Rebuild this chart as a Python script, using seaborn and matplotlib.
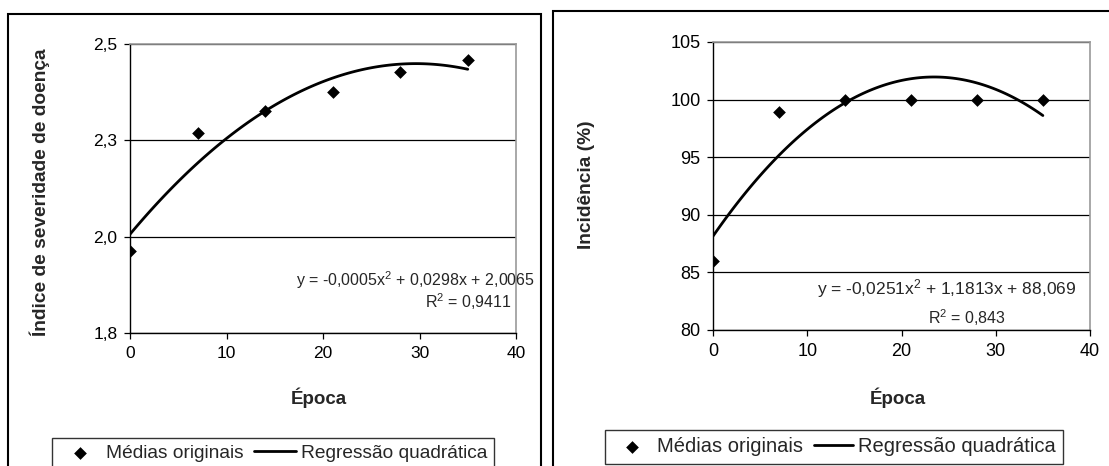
import numpy as np
import pandas as pd
import matplotlib.pyplot as plt
import seaborn as sns
from matplotlib.patches import Rectangle

# Data
epoca = [0, 7, 14, 21, 28, 35]
severidade = [1.964, 2.268, 2.325, 2.375, 2.427, 2.458]
incidencia = [86.0, 98.9, 100.0, 100.0, 100.0, 100.0]

x_ticks = [0, 10, 20, 30, 40]
sev_ticks = [1.75, 2.0, 2.25, 2.5]
sev_tick_labels = ['1,8', '2,0', '2,3', '2,5']
inc_ticks = [80, 85, 90, 95, 100, 105]
inc_tick_labels = ['80', '85', '90', '95', '100', '105']

eq_sev = 'y = -0,0005x$^{2}$ + 0,0298x + 2,0065'
r2_sev = 'R$^{2}$ = 0,9411'
eq_inc = 'y = -0,0251x$^{2}$ + 1,1813x + 88,069'
r2_inc = 'R$^{2}$ = 0,843'

sns.set_style('white')
plt.rcParams['font.family'] = ['Liberation Sans', 'DejaVu Sans']
plt.rcParams['mathtext.fontset'] = 'custom'
plt.rcParams['mathtext.rm'] = 'Liberation Sans'
plt.rcParams['mathtext.default'] = 'regular'

W, H = 1109, 466
fig = plt.figure(figsize=(W / 100, H / 100), dpi=100)


def px_axes(x0, x1, y0, y1):
    return fig.add_axes([x0 / W, 1 - y1 / H, (x1 - x0) / W, (y1 - y0) / H])


def draw_panel(ax, y, yticks, ylabels, ylabel, tick_size, ylab_xy, xlab_y):
    sns.scatterplot(x=epoca, y=y, marker='D', color='black', s=42, linewidth=0,
                    label='Médias originais', ax=ax, zorder=3)
    sns.regplot(x=epoca, y=y, order=2, ci=None, scatter=False, color='black',
                line_kws={'lw': 2}, label='Regressão quadrática', ax=ax)
    if ax.get_legend() is not None:
        ax.get_legend().remove()
    ax.set_xlim(0, 40)
    ax.set_ylim(yticks[0], yticks[-1])
    ax.set_xticks(x_ticks)
    ax.set_xticklabels([str(t) for t in x_ticks])
    ax.set_yticks(yticks)
    ax.set_yticklabels(ylabels)
    ax.grid(axis='y', color='black', lw=0.9)
    ax.set_axisbelow(True)
    for side in ['top', 'right']:
        ax.spines[side].set_color('#999999')
        ax.spines[side].set_linewidth(1.2)
    for side in ['left', 'bottom']:
        ax.spines[side].set_color('black')
        ax.spines[side].set_linewidth(1)
    ax.tick_params(direction='out', length=4, width=0.9, colors='black',
                   labelsize=tick_size, left=True, bottom=True, pad=5)
    ax.set_ylabel(ylabel, fontsize=13.8, fontweight='bold')
    ax.yaxis.set_label_coords(*ylab_xy)
    ax.set_xlabel('Época', fontsize=13.5, fontweight='bold')
    ax.xaxis.set_label_coords(0.49, xlab_y)


ax1 = px_axes(130, 516, 44, 333)
draw_panel(ax1, severidade, sev_ticks, sev_tick_labels,
           'Índice de severidade de doença', 12.5, (-0.207, 0.488), -0.19)

ax2 = px_axes(713, 1090, 42, 330)
draw_panel(ax2, incidencia, inc_ticks, inc_tick_labels, 'Incidência (%)',
           13, (-0.313, 0.503), -0.198)

# Regression equations
fig.text(535 / W, 1 - 280 / H, eq_sev, ha='right', va='center', fontsize=11.5)
fig.text(468 / W, 1 - 302 / H, r2_sev, ha='center', va='center', fontsize=11.5)
fig.text(947 / W, 1 - 289 / H, eq_inc, ha='center', va='center', fontsize=12.5)
fig.text(967 / W, 1 - 318 / H, r2_inc, ha='center', va='center', fontsize=11.5)

# Legends below each panel
for ax, cx, cy, fs, hl in [(ax1, 273, 453, 13.8, 2.2), (ax2, 834, 447, 14.5, 1.95)]:
    handles, labels = ax.get_legend_handles_labels()
    leg = fig.legend(handles, labels, loc='center', bbox_to_anchor=(cx / W, 1 - cy / H),
                     ncol=2, fontsize=fs, frameon=True, fancybox=False,
                     edgecolor='black', handlelength=hl, handletextpad=0.25,
                     columnspacing=0.55, borderpad=0.35, markerscale=1.0)
    leg.get_frame().set_linewidth(1)

# Chart-area frames
fig.add_artist(Rectangle((8 / W, -0.1), (541 - 8) / W, 1.1 - 14 / H,
                         transform=fig.transFigure, fill=False, edgecolor='black', lw=1.5))
fig.add_artist(Rectangle((553 / W, -0.1), 0.6, 1.1 - 11 / H,
                         transform=fig.transFigure, fill=False, edgecolor='black', lw=1.5))

fig.savefig('out.png', dpi=100)
